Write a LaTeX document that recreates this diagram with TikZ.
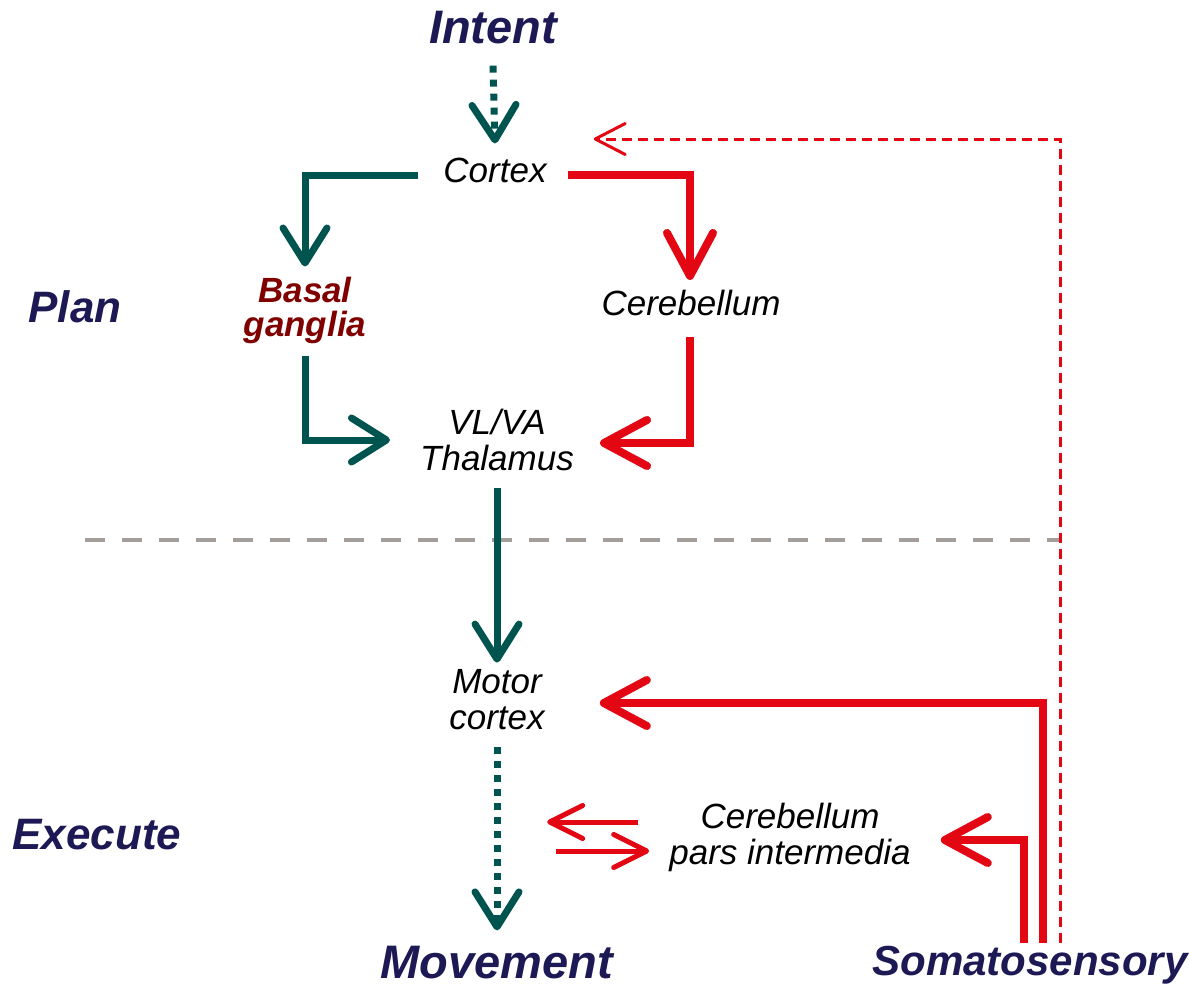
\documentclass[tikz,border=0pt]{standalone}
\usepackage{fontspec}
\setmainfont{Liberation Sans}
\usetikzlibrary{arrows.meta}
\definecolor{tealc}{RGB}{0,84,80}
\definecolor{redc}{RGB}{227,6,19}
\definecolor{navy}{RGB}{29,25,84}
\definecolor{darkredc}{RGB}{128,0,0}
\definecolor{grayc}{RGB}{163,158,153}
\begin{document}
\begin{tikzpicture}[x=1pt,y=-1pt,
  lab/.style={font=\fontsize{35}{36}\selectfont\itshape, inner sep=0pt, align=center},
  biglab/.style={font=\fontsize{47}{50}\selectfont\bfseries\itshape, text=navy, inner sep=0pt},
  sidelab/.style={font=\fontsize{44}{48}\selectfont\bfseries\itshape, text=navy, inner sep=0pt},
  somalab/.style={font=\fontsize{42}{46}\selectfont\bfseries\itshape, text=navy, inner sep=0pt},
  basallab/.style={font=\fontsize{35}{34}\selectfont\bfseries\itshape, text=darkredc, inner sep=0pt, align=center},
  tealline/.style={draw=tealc, line width=7pt, line join=miter, -{Straight Barb[length=35pt,width=44pt,round]}},
  tealdot/.style={tealline, dash pattern=on 7pt off 7pt},
  redline/.style={draw=redc, line width=8pt, line join=miter, -{Straight Barb[length=43pt,width=46pt,round]}},
  redthin/.style={draw=redc, line width=5pt, -{Straight Barb[length=33pt,width=33pt,round]}},
  reddash/.style={draw=redc, line width=3pt, dash pattern=on 10pt off 6pt, -{Straight Barb[length=30pt,width=31pt,round]}},
  divider/.style={draw=grayc, line width=4.5pt, dash pattern=on 20pt off 17pt}
]
\useasboundingbox (0,0) rectangle (1189,990);

% nodes
\node[biglab] (intent) at (493,28) {Intent};
\node[lab] (cortex) at (495,170) {Cortex};
\node[basallab] (basal) at (305,310) {Basal\\ganglia};
\node[lab] (cereb) at (691,303) {Cerebellum};
\node[lab] (thal) at (497,440) {VL/VA\\Thalamus};
\node[lab] (motor) at (497,700) {Motor\\cortex};
\node[lab] (cpi) at (790,837) {Cerebellum\\pars intermedia};
\node[biglab] (movement) at (497,963) {Movement};
\node[somalab] (soma) at (1030,965) {Somatosensory};
\node[sidelab] (plan) at (75,307) {Plan};
\node[sidelab] (execute) at (97,835) {Execute};

% divider
\draw[divider] (85,540) -- (1060,540);

% plan connectors
\draw[tealdot] ([yshift=-21pt]intent.south) -- ([yshift=14pt]cortex.north);
\draw[tealline] ([xshift=-25pt,yshift=-5pt]cortex.west) -| ([yshift=10pt]basal.north);
\draw[redline] ([xshift=21pt,yshift=-5pt]cortex.east) -| ([xshift=-1pt,yshift=10pt]cereb.north);
\draw[tealline] ([yshift=-12pt]basal.south) |- ([xshift=-30pt]thal.west);
\draw[redline] ([xshift=-1pt,yshift=-21pt]cereb.south) |- ([xshift=26pt,yshift=-3pt]thal.east);
\draw[tealline] ([yshift=-17pt]thal.south) -- ([yshift=7pt]motor.north);

% execute connectors
\draw[tealdot] ([yshift=-17pt]motor.south) -- ([yshift=16pt]movement.north);
\draw[redline] ([xshift=13pt,yshift=3pt]soma.north) |- ([xshift=55pt,yshift=-3pt]motor.east);
\draw[redline] ([xshift=-6pt,yshift=3pt]soma.north) |- ([xshift=30pt,yshift=-3pt]cpi.east);
\draw[reddash] ([xshift=30pt,yshift=3pt]soma.north) |- ([xshift=47pt,yshift=31pt]cortex.east);
\draw[redthin] ([xshift=-31pt,yshift=15pt]cpi.west) -- ++(-91,0);
\draw[redthin] ([xshift=-113pt,yshift=-14pt]cpi.west) -- ++(93,0);
\end{tikzpicture}
\end{document}
